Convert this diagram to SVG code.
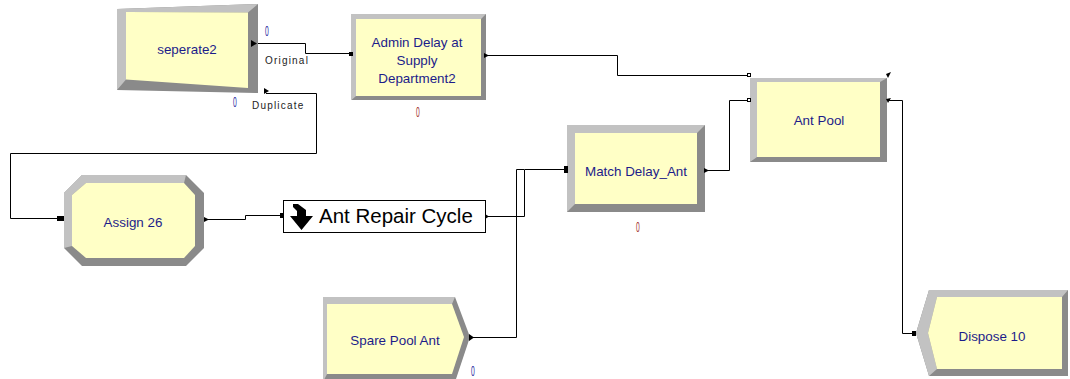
<svg xmlns="http://www.w3.org/2000/svg" width="1070" height="379" viewBox="0 0 1070 379">
<style>
.dark{fill:#8a8a8a}
.light{fill:#c2c2c2}
.face{fill:#ffffc6}
.lbl{font-family:"Liberation Sans",Arial,sans-serif;font-size:13.4px;fill:#1c1c8a;text-anchor:middle}
.small{font-family:"Liberation Sans",Arial,sans-serif;font-size:10px;fill:#222;letter-spacing:1.2px}
.cnt{font-family:"Liberation Sans",Arial,sans-serif;font-size:15px;text-anchor:middle}
.wire{fill:none;stroke:#000;stroke-width:1}
.port{fill:#000}
</style>
<rect width="1070" height="379" fill="#fff"/>

<g id="connectors">
<path class="wire" d="M258 43.5H305.5V53.5H351"/>
<path class="wire" d="M266 93.5H316.5V153.5H10.5V218.5H62"/>
<path class="wire" d="M204 219.5H245.5V215.5H283"/>
<path class="wire" d="M486 216.5H524.5V169.5H567"/>
<path class="wire" d="M470 337.5H516.5V169.5H524"/>
<path class="wire" d="M486 55.5H617.5V75.5H750"/>
<path class="wire" d="M705 170.5H729.5V100.5H750"/>
<path class="wire" d="M887 100.5H902.5V333.5H916"/>
<text class="small" x="265" y="64">Original</text>
<text class="small" x="252" y="109">Duplicate</text>
</g>

<g id="seperate2">
<polygon class="dark" points="117,9 258,4 258,93 117,90"/>
<polygon class="light" points="117,90 117,9 258,4 248,12.5 126,12 126,79.5"/>
<polygon class="face" points="126,12 248,12.5 248,88 126,79.5"/>
<text class="lbl" x="187" y="54">seperate2</text>
<polygon class="port" points="251,40 257,43.5 251,47"/>
<polygon class="port" points="264,88 269,91 264,94"/>
<text class="cnt" fill="#2828a0" transform="translate(267 36) scale(0.45 1)" x="0" y="0">0</text>
<text class="cnt" fill="#2828a0" transform="translate(235 107) scale(0.45 1)" x="0" y="0">0</text>
</g>

<g id="admin">
<rect class="dark" x="351.5" y="14" width="134.5" height="86"/>
<polygon class="light" points="351.5,100 351.5,14 486,14 481,19 356,19 356,96"/>
<rect class="face" x="356" y="19" width="125" height="77"/>
<rect class="port" x="349" y="52" width="4" height="4"/>
<polygon class="port" points="484,53 489,55.5 484,58"/>
<text class="lbl" x="417" y="47">Admin Delay at</text>
<text class="lbl" x="417" y="65">Supply</text>
<text class="lbl" x="417" y="83">Department2</text>
<text class="cnt" fill="#a03030" transform="translate(418 117) scale(0.45 1)" x="0" y="0">0</text>
</g>

<g id="assign26">
<polygon class="dark" points="82,175 186,175 204,193 204,248 186,266 82,266 64,248 64,193"/>
<polygon class="light" points="64,248 64,193 82,175 186,175 184,183 86,183 72,195 72,246"/>
<polygon class="face" points="86,183 184,183 195,195 195,246 184,258 86,258 72,246 72,195"/>
<rect class="port" x="57" y="216" width="7" height="5"/>
<polygon class="port" points="204,217 209,219.5 204,222"/>
<text class="lbl" x="133" y="227">Assign 26</text>
</g>

<g id="antRepairCycle">
<rect x="283.5" y="200.5" width="202" height="32" fill="#fff" stroke="#000" stroke-width="1"/>
<rect class="port" x="280" y="213" width="4" height="5"/>
<polygon class="port" points="485,214 489,216.5 485,219"/>
<polygon fill="#000" points="293,204 298,204 306,210 306,216 313,216 301.5,230 290,216 297,216 297,211 293,207"/>
<text x="319" y="222.5" font-family="'Liberation Sans',Arial,sans-serif" font-size="20.5px" fill="#000">Ant Repair Cycle</text>
</g>

<g id="matchDelay">
<rect class="dark" x="567" y="125" width="138" height="87"/>
<polygon class="light" points="567,212 567,125 705,125 697,133 575,133 575,204"/>
<rect class="face" x="575" y="133" width="122" height="71"/>
<rect class="port" x="564" y="166" width="4" height="7"/>
<polygon class="port" points="704,168 709,170.5 704,173"/>
<text class="lbl" x="636" y="176">Match Delay_Ant</text>
<text class="cnt" fill="#a03030" transform="translate(638 232) scale(0.45 1)" x="0" y="0">0</text>
</g>

<g id="antPool">
<rect class="dark" x="750" y="78" width="137" height="84"/>
<polygon class="light" points="750,162 750,78 887,78 880,82 757,82 757,157"/>
<rect class="face" x="757" y="82" width="123" height="75"/>
<rect x="747.5" y="73.5" width="3" height="3" fill="#fff" stroke="#000" stroke-width="1"/>
<rect x="747.5" y="98.5" width="3" height="3" fill="#fff" stroke="#000" stroke-width="1"/>
<polygon class="port" points="886,74 891,72 888,78"/>
<polygon class="port" points="886,99 891,98 888,103"/>
<text class="lbl" x="819" y="125">Ant Pool</text>
</g>

<g id="sparePoolAnt">
<polygon class="dark" points="323,297 455,297 470,337 455,382 323,382"/>
<polygon class="light" points="323,382 323,297 455,297 452,304 327,304 327,374"/>
<polygon class="face" points="327,304 452,304 464,337 452,374 327,374"/>
<polygon class="port" points="469,334 474,337.5 469,341"/>
<text class="lbl" x="395" y="345">Spare Pool Ant</text>
<text class="cnt" fill="#2828a0" transform="translate(473 376) scale(0.45 1)" x="0" y="0">0</text>
</g>

<g id="dispose10">
<polygon class="dark" points="916,333 929,290 1068,290 1068,376 929,376"/>
<polygon class="light" points="929,376 916,333 929,290 1068,290 1062,297 937,297 928,333 937,369"/>
<polygon class="face" points="928,333 937,297 1062,297 1062,369 937,369"/>
<rect class="port" x="912" y="331" width="4" height="5"/>
<text class="lbl" x="992" y="341">Dispose 10</text>
</g>
</svg>
